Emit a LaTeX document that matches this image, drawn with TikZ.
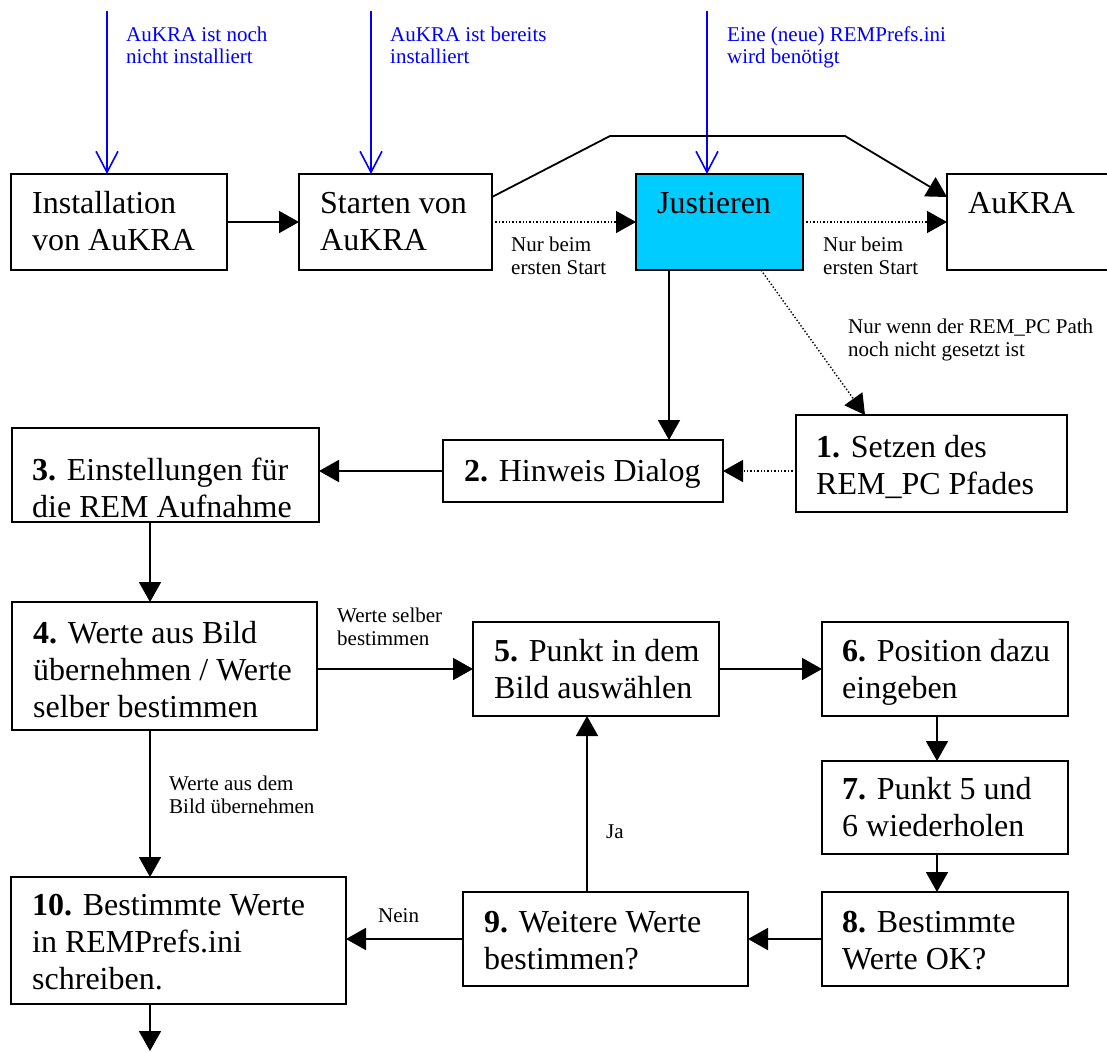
\documentclass[tikz,border=0pt]{standalone}
\usepackage{fontspec}
\setmainfont{Liberation Serif}
\usetikzlibrary{arrows.meta}
\definecolor{blueline}{RGB}{0,0,255}
\definecolor{justfill}{RGB}{0,204,255}
\newcommand\topstrut{\rule{0pt}{0.8em}}
\tikzset{
  box/.style={draw, line width=1.8pt, inner sep=0pt, outer sep=0pt, anchor=north west},
  maintext/.style={anchor=north west, inner sep=0pt, align=left, font=\fontsize{32}{37}\selectfont},
  lbl/.style={anchor=north west, inner sep=0pt, align=left, font=\fontsize{21}{23}\selectfont},
  bluelbl/.style={anchor=north west, inner sep=0pt, align=left, text=blueline, font=\fontsize{21}{22}\selectfont},
  arr/.style={line width=1.8pt, -{Triangle[length=20pt,width=22pt]}},
  dotarr/.style={line width=1.4pt, dash pattern=on 1.4pt off 2pt, -{Triangle[length=20pt,width=22pt]}},
  bluearr/.style={draw=blueline, line width=1.6pt, -{Straight Barb[length=21pt,width=22pt,line width=1.6pt]}},
}
\begin{document}
\begin{tikzpicture}[x=1pt,y=-1pt]
\useasboundingbox (0,0) rectangle (1107,1052);
\clip (0,0) rectangle (1107,1052);
\fill[white] (0,0) rectangle (1107,1052);

% boxes of the start-up row
\node[box, minimum width=216pt, minimum height=96pt] (inst) at (11,174) {};
\node[box, minimum width=193pt, minimum height=96pt] (start) at (299,174) {};
\node[box, fill=justfill, minimum width=167pt, minimum height=96pt] (just) at (636,174) {};
\node[box, minimum width=200pt, minimum height=96pt] (aukra) at (947,174) {};

\node[maintext] (instT) at (32,187.4) {\topstrut Installation\\von AuKRA};
\node[maintext] (startT) at (320,187.4) {\topstrut Starten von\\AuKRA};
\node[maintext] (justT) at (657,187.4) {\topstrut Justieren};
\node[maintext] (aukraT) at (968,187.4) {\topstrut AuKRA};

% entry points
\coordinate (e1) at (107,11);
\coordinate (e2) at (371,11);
\coordinate (e3) at (707,11);
\draw[bluearr] (e1) -- (e1 |- inst.north);
\draw[bluearr] (e2) -- (e2 |- start.north);
\draw[bluearr] (e3) -- (e3 |- just.north);
\node[bluelbl] (e1T) at (126,24.2) {\topstrut AuKRA ist noch\\nicht installiert};
\node[bluelbl] (e2T) at (390,24.2) {\topstrut AuKRA ist bereits\\installiert};
\node[bluelbl] (e3T) at (727,24.2) {\topstrut Eine (neue) REMPrefs.ini\\wird benötigt};

% connectors of the start-up row
\draw[arr] (inst.east) -- (start.west);
\coordinate (upL) at (610,136);
\coordinate (upR) at (845,136);
\draw[arr] (start.east |- 0,197) -- (upL) -- (upR) -- (aukra.west |- 0,197);
\draw[dotarr] (start.east) -- (just.west);
\draw[dotarr] (just.east) -- (aukra.west);
\node[lbl] (nb1) at (511,234.2) {\topstrut Nur beim\\ersten Start};
\node[lbl] (nb2) at (823,234.2) {\topstrut Nur beim\\ersten Start};

% path setting and hint dialog
\node[box, minimum width=271pt, minimum height=97pt] (setz) at (796,415) {};
\node[maintext] (setzT) at (816,431.4) {\topstrut\textbf{1.} Setzen des\\REM\_PC Pfades};
\node[box, minimum width=280pt, minimum height=62pt] (hinw) at (443,440) {};
\node[maintext] (hinwT) at (464,455.4) {\topstrut\textbf{2.} Hinweis Dialog};

\draw[arr] (just.south -| 669,0) -- (hinw.north -| 669,0);
\draw[dotarr] (just.south -| 761,0) -- (setz.north -| 865,0);
\node[lbl] (nw) at (848,316.2) {\topstrut Nur wenn der REM\_PC Path\\noch nicht gesetzt ist};
\draw[dotarr] (setz.west |- hinw.east) -- (hinw.east);

% settings and value selection
\node[box, minimum width=307pt, minimum height=94pt] (einst) at (12,428) {};
\node[maintext] (einstT) at (32,454.4) {\topstrut\textbf{3.} Einstellungen für\\die REM Aufnahme};
\draw[arr] (hinw.west) -- (einst.east |- hinw.west);

\node[box, minimum width=305pt, minimum height=128pt] (werte) at (12,602) {};
\node[maintext] (werteT) at (33,617.4) {\topstrut\textbf{4.} Werte aus Bild\\übernehmen / Werte\\selber bestimmen};
\draw[arr] (einst.south -| 150,0) -- (werte.north -| 150,0);

\node[box, minimum width=246pt, minimum height=94pt] (punkt) at (473,622) {};
\node[maintext] (punktT) at (494,635.4) {\topstrut\textbf{5.} Punkt in dem\\Bild auswählen};
\node[box, minimum width=246pt, minimum height=94pt] (pos) at (822,622) {};
\node[maintext] (posT) at (842,635.4) {\topstrut\textbf{6.} Position dazu\\eingeben};
\node[box, minimum width=246pt, minimum height=93pt] (wied) at (822,761) {};
\node[maintext] (wiedT) at (842,773.4) {\topstrut\textbf{7.} Punkt 5 und\\6 wiederholen};
\node[box, minimum width=246pt, minimum height=94pt] (ok) at (822,892) {};
\node[maintext] (okT) at (842,906.4) {\topstrut\textbf{8.} Bestimmte\\Werte OK?};
\node[box, minimum width=285pt, minimum height=94pt] (weit) at (463,892) {};
\node[maintext] (weitT) at (484,906.4) {\topstrut\textbf{9.} Weitere Werte\\bestimmen?};
\node[box, minimum width=335pt, minimum height=127pt] (schr) at (11,877) {};
\node[maintext] (schrT) at (32,889.4) {\topstrut\textbf{10.} Bestimmte Werte\\in REMPrefs.ini\\schreiben.};

\draw[arr] (werte.east |- punkt.west) -- (punkt.west);
\node[lbl] (wsT) at (337,605.2) {\topstrut Werte selber\\bestimmen};
\draw[arr] (punkt.east) -- (pos.west);
\draw[arr] (pos.south -| 937,0) -- (wied.north -| 937,0);
\draw[arr] (wied.south -| 937,0) -- (ok.north -| 937,0);
\draw[arr] (ok.west) -- (weit.east);
\draw[arr] (weit.north -| 587,0) -- (punkt.south -| 587,0);
\node[lbl] (jaT) at (606,821.2) {\topstrut Ja};
\draw[arr] (weit.west) -- (schr.east |- weit.west);
\node[lbl] (neinT) at (378,905.2) {\topstrut Nein};
\draw[arr] (werte.south -| 150,0) -- (schr.north -| 150,0);
\node[lbl] (wbT) at (169,773.2) {\topstrut Werte aus dem\\Bild übernehmen};
\coordinate (finish) at (150,1051);
\draw[arr] (schr.south -| finish) -- (finish);
\end{tikzpicture}
\end{document}
